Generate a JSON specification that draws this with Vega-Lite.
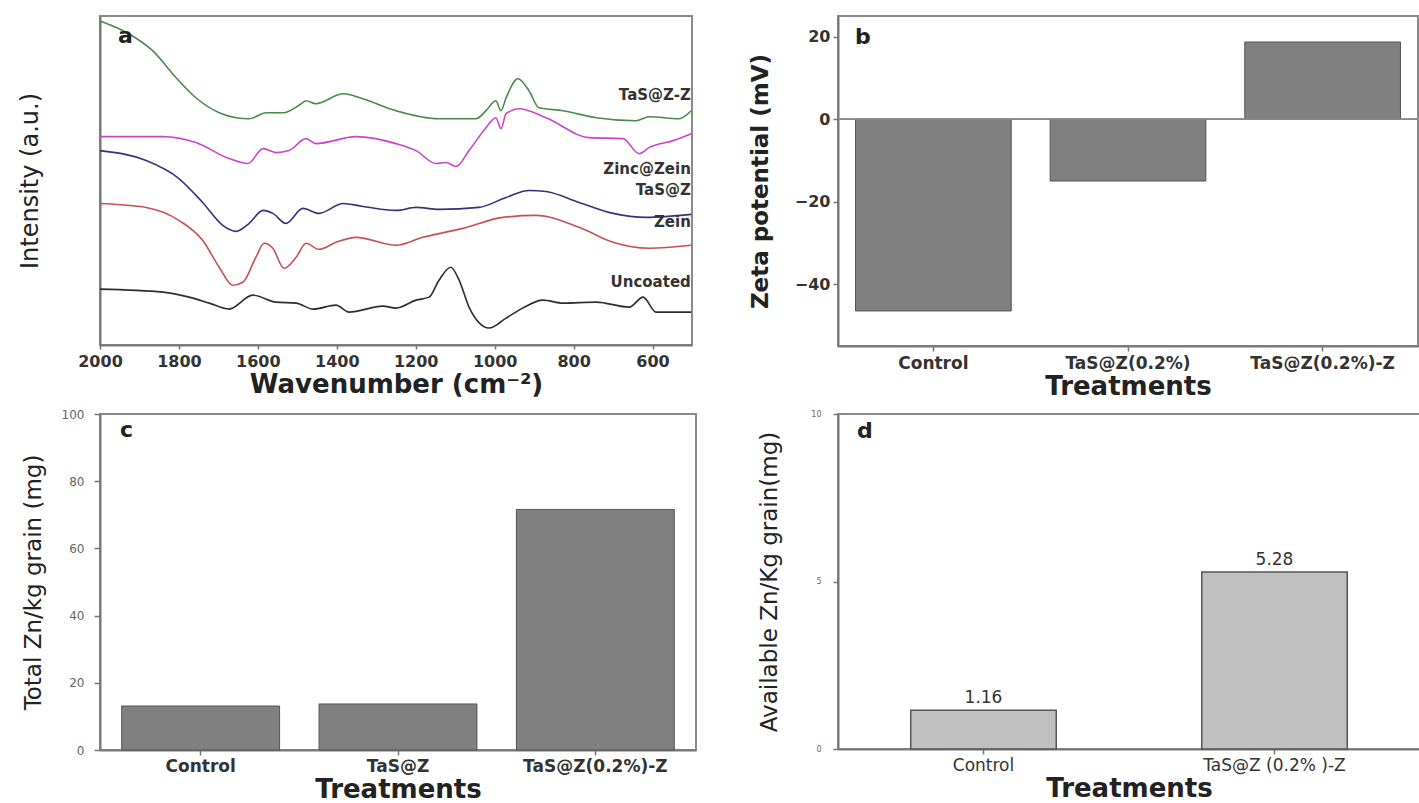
{
  "$schema": "https://vega.github.io/schema/vega-lite/v6.json",
  "background": "white",
  "padding": {"left": 17, "top": 15, "right": 0, "bottom": 0},
  "columns": 2,
  "bounds": "flush",
  "spacing": {"row": 68, "column": 142},
  "config": {
    "font": "DejaVu Sans",
    "view": {"stroke": "#8a8a8a", "strokeWidth": 2},
    "axis": {"grid": false, "domainColor": "#777", "domainWidth": 2, "tickColor": "#777", "tickWidth": 1.5, "labelColor": "#333", "titleColor": "#222", "labelFont": "DejaVu Sans", "titleFont": "DejaVu Sans"},
    "title": {"anchor": "start", "frame": "group", "fontSize": 22, "fontWeight": "bold", "color": "#222", "font": "DejaVu Sans"}
  },
  "concat": [
    {
      "width": 592,
      "height": 329,
      "title": {"text": "a", "offset": -32, "dx": 18},
      "data": {"values": [
        {"s":"TaS@Z-Z","w":2000,"v":325},{"s":"TaS@Z-Z","w":1926,"v":312},{"s":"TaS@Z-Z","w":1866,"v":295},{"s":"TaS@Z-Z","w":1807,"v":268},{"s":"TaS@Z-Z","w":1757,"v":248},{"s":"TaS@Z-Z","w":1698,"v":233},{"s":"TaS@Z-Z","w":1655,"v":228},{"s":"TaS@Z-Z","w":1622,"v":227},{"s":"TaS@Z-Z","w":1579,"v":233},{"s":"TaS@Z-Z","w":1536,"v":233},{"s":"TaS@Z-Z","w":1490,"v":242},{"s":"TaS@Z-Z","w":1478,"v":245},{"s":"TaS@Z-Z","w":1453,"v":242},{"s":"TaS@Z-Z","w":1384,"v":252},{"s":"TaS@Z-Z","w":1334,"v":247},{"s":"TaS@Z-Z","w":1250,"v":235},{"s":"TaS@Z-Z","w":1141,"v":227},{"s":"TaS@Z-Z","w":1047,"v":227},{"s":"TaS@Z-Z","w":1022,"v":235},{"s":"TaS@Z-Z","w":997,"v":245},{"s":"TaS@Z-Z","w":984,"v":235},{"s":"TaS@Z-Z","w":971,"v":248},{"s":"TaS@Z-Z","w":941,"v":267},{"s":"TaS@Z-Z","w":913,"v":255},{"s":"TaS@Z-Z","w":888,"v":238},{"s":"TaS@Z-Z","w":827,"v":235},{"s":"TaS@Z-Z","w":743,"v":228},{"s":"TaS@Z-Z","w":642,"v":225},{"s":"TaS@Z-Z","w":609,"v":229},{"s":"TaS@Z-Z","w":533,"v":227},{"s":"TaS@Z-Z","w":502,"v":235},
        {"s":"Zinc@Zein","w":2000,"v":209},{"s":"Zinc@Zein","w":1840,"v":209},{"s":"Zinc@Zein","w":1757,"v":203},{"s":"Zinc@Zein","w":1673,"v":187},{"s":"Zinc@Zein","w":1625,"v":182},{"s":"Zinc@Zein","w":1587,"v":197},{"s":"Zinc@Zein","w":1554,"v":193},{"s":"Zinc@Zein","w":1521,"v":195},{"s":"Zinc@Zein","w":1478,"v":207},{"s":"Zinc@Zein","w":1453,"v":202},{"s":"Zinc@Zein","w":1351,"v":209},{"s":"Zinc@Zein","w":1250,"v":202},{"s":"Zinc@Zein","w":1199,"v":195},{"s":"Zinc@Zein","w":1149,"v":182},{"s":"Zinc@Zein","w":1123,"v":183},{"s":"Zinc@Zein","w":1098,"v":179},{"s":"Zinc@Zein","w":1065,"v":195},{"s":"Zinc@Zein","w":1022,"v":218},{"s":"Zinc@Zein","w":997,"v":228},{"s":"Zinc@Zein","w":984,"v":217},{"s":"Zinc@Zein","w":971,"v":232},{"s":"Zinc@Zein","w":938,"v":237},{"s":"Zinc@Zein","w":870,"v":228},{"s":"Zinc@Zein","w":761,"v":208},{"s":"Zinc@Zein","w":675,"v":207},{"s":"Zinc@Zein","w":634,"v":192},{"s":"Zinc@Zein","w":609,"v":198},{"s":"Zinc@Zein","w":548,"v":205},{"s":"Zinc@Zein","w":502,"v":212},
        {"s":"TaS@Z","w":2000,"v":195},{"s":"TaS@Z","w":1883,"v":185},{"s":"TaS@Z","w":1800,"v":167},{"s":"TaS@Z","w":1740,"v":143},{"s":"TaS@Z","w":1689,"v":120},{"s":"TaS@Z","w":1655,"v":114},{"s":"TaS@Z","w":1622,"v":122},{"s":"TaS@Z","w":1587,"v":135},{"s":"TaS@Z","w":1562,"v":132},{"s":"TaS@Z","w":1529,"v":122},{"s":"TaS@Z","w":1486,"v":137},{"s":"TaS@Z","w":1445,"v":132},{"s":"TaS@Z","w":1384,"v":142},{"s":"TaS@Z","w":1334,"v":139},{"s":"TaS@Z","w":1250,"v":135},{"s":"TaS@Z","w":1199,"v":138},{"s":"TaS@Z","w":1141,"v":136},{"s":"TaS@Z","w":1040,"v":138},{"s":"TaS@Z","w":971,"v":148},{"s":"TaS@Z","w":913,"v":155},{"s":"TaS@Z","w":870,"v":154},{"s":"TaS@Z","w":786,"v":143},{"s":"TaS@Z","w":700,"v":132},{"s":"TaS@Z","w":616,"v":128},{"s":"TaS@Z","w":502,"v":131},
        {"s":"Zein","w":2000,"v":142},{"s":"Zein","w":1883,"v":138},{"s":"Zein","w":1800,"v":125},{"s":"Zein","w":1740,"v":105},{"s":"Zein","w":1698,"v":78},{"s":"Zein","w":1664,"v":60},{"s":"Zein","w":1638,"v":63},{"s":"Zein","w":1605,"v":88},{"s":"Zein","w":1584,"v":102},{"s":"Zein","w":1562,"v":97},{"s":"Zein","w":1534,"v":77},{"s":"Zein","w":1503,"v":88},{"s":"Zein","w":1478,"v":102},{"s":"Zein","w":1445,"v":96},{"s":"Zein","w":1402,"v":103},{"s":"Zein","w":1351,"v":108},{"s":"Zein","w":1250,"v":100},{"s":"Zein","w":1182,"v":108},{"s":"Zein","w":1080,"v":117},{"s":"Zein","w":979,"v":128},{"s":"Zein","w":895,"v":130},{"s":"Zein","w":786,"v":118},{"s":"Zein","w":700,"v":103},{"s":"Zein","w":609,"v":97},{"s":"Zein","w":502,"v":100},
        {"s":"Uncoated","w":2000,"v":56},{"s":"Uncoated","w":1840,"v":53},{"s":"Uncoated","w":1774,"v":48},{"s":"Uncoated","w":1723,"v":42},{"s":"Uncoated","w":1673,"v":36},{"s":"Uncoated","w":1613,"v":50},{"s":"Uncoated","w":1554,"v":43},{"s":"Uncoated","w":1503,"v":42},{"s":"Uncoated","w":1460,"v":36},{"s":"Uncoated","w":1402,"v":40},{"s":"Uncoated","w":1369,"v":33},{"s":"Uncoated","w":1283,"v":39},{"s":"Uncoated","w":1250,"v":37},{"s":"Uncoated","w":1199,"v":45},{"s":"Uncoated","w":1166,"v":48},{"s":"Uncoated","w":1141,"v":65},{"s":"Uncoated","w":1111,"v":78},{"s":"Uncoated","w":1090,"v":65},{"s":"Uncoated","w":1065,"v":38},{"s":"Uncoated","w":1014,"v":17},{"s":"Uncoated","w":971,"v":27},{"s":"Uncoated","w":929,"v":37},{"s":"Uncoated","w":878,"v":45},{"s":"Uncoated","w":827,"v":42},{"s":"Uncoated","w":743,"v":43},{"s":"Uncoated","w":659,"v":38},{"s":"Uncoated","w":624,"v":48},{"s":"Uncoated","w":591,"v":33},{"s":"Uncoated","w":502,"v":33}
      ]},
      "layer": [
        {
          "mark": {"type": "line", "strokeWidth": 1.6, "interpolate": "monotone"},
          "encoding": {
            "x": {"field": "w", "type": "quantitative", "scale": {"domain": [500, 2000], "reverse": true, "nice": false, "zero": false},
                  "axis": {"values": [2000,1800,1600,1400,1200,1000,800,600], "format": "d", "labelFlush": false, "labelOverlap": false, "labelFontSize": 16, "labelFontWeight": "bold", "tickSize": 4, "labelPadding": 4, "title": "Wavenumber (cm⁻²)", "titleFontSize": 26, "titleFontWeight": "bold", "titlePadding": 2}},
            "y": {"field": "v", "type": "quantitative", "scale": {"domain": [0, 330], "nice": false},
                  "axis": {"labels": false, "ticks": false, "title": "Intensity (a.u.)", "titleFontSize": 24, "titleFontWeight": "normal", "titlePadding": 58}},
            "color": {"field": "s", "type": "nominal", "legend": null,
                      "scale": {"domain": ["TaS@Z-Z","Zinc@Zein","TaS@Z","Zein","Uncoated"], "range": ["#4a8a4a","#cc44cc","#33337f","#c85050","#2e2e2e"]}}
          }
        },
        {
          "data": {"values": [
            {"label":"TaS@Z-Z","w":503,"v":251},
            {"label":"Zinc@Zein","w":503,"v":177},
            {"label":"TaS@Z","w":503,"v":155},
            {"label":"Zein","w":503,"v":123},
            {"label":"Uncoated","w":503,"v":63}
          ]},
          "mark": {"type": "text", "align": "right", "baseline": "middle", "fontSize": 15, "fontWeight": "bold", "color": "#333"},
          "encoding": {
            "x": {"field": "w", "type": "quantitative"},
            "y": {"field": "v", "type": "quantitative"},
            "text": {"field": "label"}
          }
        }
      ]
    },
    {
      "width": 580,
      "height": 330,
      "title": {"text": "b", "offset": -33, "dx": 17},
      "data": {"values": [
        {"t":"Control","v":-46.5},
        {"t":"TaS@Z(0.2%)","v":-15},
        {"t":"TaS@Z(0.2%)-Z","v":18.7}
      ]},
      "layer": [
        {
          "mark": {"type": "bar", "color": "#808080", "stroke": "#555", "strokeWidth": 1},
          "encoding": {
            "x": {"field": "t", "type": "nominal", "sort": null, "scale": {"paddingInner": 0.2, "paddingOuter": 0.09},
                  "axis": {"labelAngle": 0, "labelFontSize": 17, "labelFontWeight": "bold", "tickSize": 5, "labelPadding": 4, "title": "Treatments", "titleFontSize": 26, "titleFontWeight": "bold", "titlePadding": 2}},
            "y": {"field": "v", "type": "quantitative", "scale": {"domain": [-55, 25], "nice": false},
                  "axis": {"values": [20, 0, -20, -40], "labelFontSize": 16, "labelFontWeight": "bold", "tickSize": 5, "labelPadding": 3, "title": "Zeta potential (mV)", "titleFontSize": 23, "titleFontWeight": "bold", "titlePadding": 22}}
          }
        },
        {
          "mark": {"type": "rule", "color": "#888", "strokeWidth": 1.5},
          "encoding": {"y": {"datum": 0}}
        }
      ]
    },
    {
      "width": 596,
      "height": 336,
      "title": {"text": "c", "offset": -34, "dx": 20},
      "data": {"values": [
        {"t":"Control","v":13.1},
        {"t":"TaS@Z","v":13.7},
        {"t":"TaS@Z(0.2%)-Z","v":71.6}
      ]},
      "mark": {"type": "bar", "color": "#808080", "stroke": "#555", "strokeWidth": 1},
      "encoding": {
        "x": {"field": "t", "type": "nominal", "sort": null, "scale": {"paddingInner": 0.2, "paddingOuter": 0.11},
              "axis": {"labelAngle": 0, "labelFontSize": 17, "labelFontWeight": "bold", "tickSize": 5, "labelPadding": 3, "title": "Treatments", "titleFontSize": 26, "titleFontWeight": "bold", "titlePadding": 2}},
        "y": {"field": "v", "type": "quantitative", "scale": {"domain": [0, 100], "nice": false},
              "axis": {"values": [0, 20, 40, 60, 80, 100], "labelFontSize": 12, "labelColor": "#666", "tickSize": 6, "labelPadding": 10, "title": "Total Zn/kg grain (mg)", "titleFontSize": 23, "titleFontWeight": "normal", "titlePadding": 16}}
      }
    },
    {
      "width": 582,
      "height": 335,
      "title": {"text": "d", "offset": -33, "dx": 19},
      "data": {"values": [
        {"t":"Control","v":1.16},
        {"t":"TaS@Z (0.2% )-Z","v":5.28}
      ]},
      "layer": [
        {
          "mark": {"type": "bar", "color": "#c0c0c0", "stroke": "#555", "strokeWidth": 1.5},
          "encoding": {
            "x": {"field": "t", "type": "nominal", "sort": null, "scale": {"paddingInner": 0.5, "paddingOuter": 0.25},
                  "axis": {"labelAngle": 0, "labelFontSize": 17, "labelFontWeight": "normal", "tickSize": 5, "labelPadding": 3, "title": "Treatments", "titleFontSize": 26, "titleFontWeight": "bold", "titlePadding": 2}},
            "y": {"field": "v", "type": "quantitative", "scale": {"domain": [0, 10], "nice": false},
                  "axis": {"values": [0, 5, 10], "labelFontSize": 8, "labelColor": "#666", "tickSize": 5, "labelPadding": 12, "title": "Available Zn/Kg grain(mg)", "titleFontSize": 23, "titleFontWeight": "normal", "titlePadding": 29}}
          }
        },
        {
          "mark": {"type": "text", "baseline": "bottom", "dy": -3, "fontSize": 17, "color": "#333"},
          "encoding": {
            "x": {"field": "t", "type": "nominal", "sort": null},
            "y": {"field": "v", "type": "quantitative"},
            "text": {"field": "v", "type": "quantitative", "format": ".2f"}
          }
        }
      ]
    }
  ]
}
